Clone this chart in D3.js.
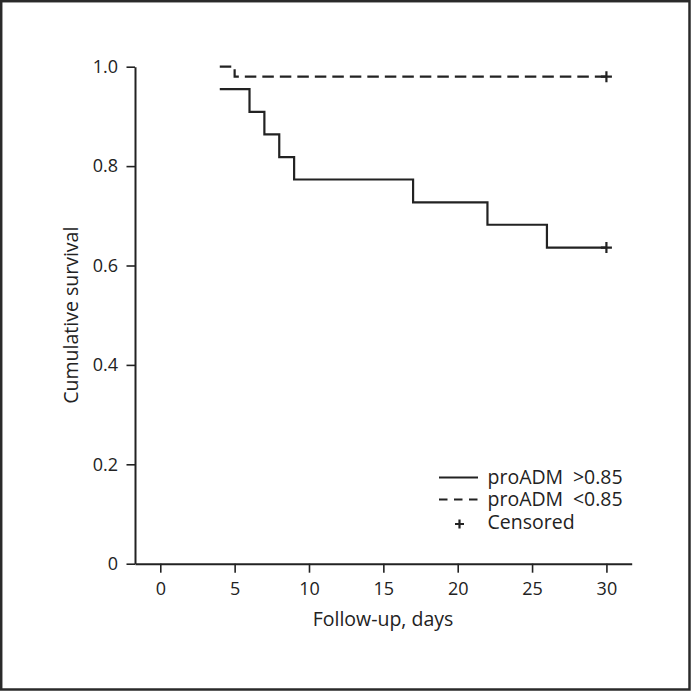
<!DOCTYPE html>
<html>
<head>
<meta charset="utf-8">
<script src="https://cdn.jsdelivr.net/npm/d3@7"></script>
<style>
  html, body { margin: 0; padding: 0; background: #fff; }
  svg { display: block; }
  text { font-family: "Open Sans", "Noto Sans", sans-serif; fill: #222; }
</style>
</head>
<body>
<svg id="chart" width="692" height="691"></svg>
<script>
// ---- data ----
const highDays = [4, 6, 7, 8, 9, 17, 22, 26, 30];
const highSurv = [0.955, 0.909, 0.864, 0.818, 0.773, 0.727, 0.682, 0.636, 0.636];
const lowDays = [4, 5, 30];
const lowSurv = [1.0, 0.98, 0.98];
const censoredHigh = [[30, 0.636]];
const censoredLow = [[30, 0.98]];
const xTicks = [0, 5, 10, 15, 20, 25, 30];
const yTicks = [0, 0.2, 0.4, 0.6, 0.8, 1.0];
const legendLabels = ["proADM\u2002>0.85", "proADM\u2002<0.85", "Censored"];

const svg = d3.select("#chart");
const ink = "#222";

// frame
svg.append("rect").attr("x", 1.2).attr("y", 1.2).attr("width", 688.3).attr("height", 688.3)
  .attr("fill", "none").attr("stroke", "#2a2a2a").attr("stroke-width", 2.5);

const x = d3.scaleLinear().domain([-1.7, 31.7]).range([135, 631.7]);
const y = d3.scaleLinear().domain([0, 1]).range([563.7, 66.7]);

// axes
const xAxis = svg.append("g").attr("transform", `translate(0,${y(0)})`)
  .call(d3.axisBottom(x).tickValues(xTicks).tickSize(9).tickSizeOuter(0).tickPadding(10).tickFormat(d3.format("d")));
const yAxis = svg.append("g").attr("transform", `translate(${x.range()[0]},0)`)
  .call(d3.axisLeft(y).tickValues(yTicks).tickSize(8.5).tickSizeOuter(0).tickPadding(8.5)
    .tickFormat(d => d === 0 ? "0" : d3.format(".1f")(d)));
[xAxis, yAxis].forEach(g => {
  g.select(".domain").attr("stroke", ink).attr("stroke-width", 2);
  g.selectAll(".tick line").attr("stroke", ink).attr("stroke-width", 1.6);
  g.selectAll(".tick text").attr("fill", ink).style("font-size", "18px")
    .style("font-family", '"Open Sans", "Noto Sans", sans-serif');
});

// axis titles
svg.append("text").attr("x", 383).attr("y", 626).attr("text-anchor", "middle")
  .style("font-size", "19.5px").text("Follow-up, days");
svg.append("text").attr("transform", `translate(77.5,${(y(0) + y(1)) / 2}) rotate(-90)`)
  .attr("text-anchor", "middle").style("font-size", "19.5px").text("Cumulative survival");

// curves
const line = d3.line().x(d => x(d[0])).y(d => y(d[1])).curve(d3.curveStepAfter);
const highData = highDays.map((d, i) => [d, highSurv[i]]);
const lowData = lowDays.map((d, i) => [d, lowSurv[i]]);

svg.append("path").datum(highData).attr("d", line).attr("fill", "none")
  .attr("stroke", ink).attr("stroke-width", 2.2);
svg.append("path").datum(lowData).attr("d", line).attr("fill", "none")
  .attr("stroke", ink).attr("stroke-width", 2.2).attr("stroke-dasharray", "11.5,6");

// censor marks
function plus(cx, cy, r, w) {
  svg.append("path").attr("d", `M${cx - r},${cy}H${cx + r}M${cx},${cy - r}V${cy + r}`)
    .attr("stroke", ink).attr("stroke-width", w).attr("fill", "none");
}
censoredHigh.concat(censoredLow).forEach(d => plus(x(d[0]), y(d[1]), 5.5, 2.2));

// legend
const lgX0 = 439, lgX1 = 478, txtX = 487.5;
const rows = [477.5, 499.5, 522.5];
svg.append("line").attr("x1", lgX0).attr("x2", lgX1).attr("y1", rows[0]).attr("y2", rows[0])
  .attr("stroke", ink).attr("stroke-width", 2);
svg.append("line").attr("x1", lgX0).attr("x2", lgX1).attr("y1", rows[1]).attr("y2", rows[1])
  .attr("stroke", ink).attr("stroke-width", 2).attr("stroke-dasharray", "8.5,6.5");
plus(459.5, rows[2] + 1.5, 4.5, 2.2);
legendLabels.forEach((t, i) => {
  svg.append("text").attr("x", txtX).attr("y", rows[i] + 6.8).style("font-size", "19.5px").text(t);
});
</script>
</body>
</html>
